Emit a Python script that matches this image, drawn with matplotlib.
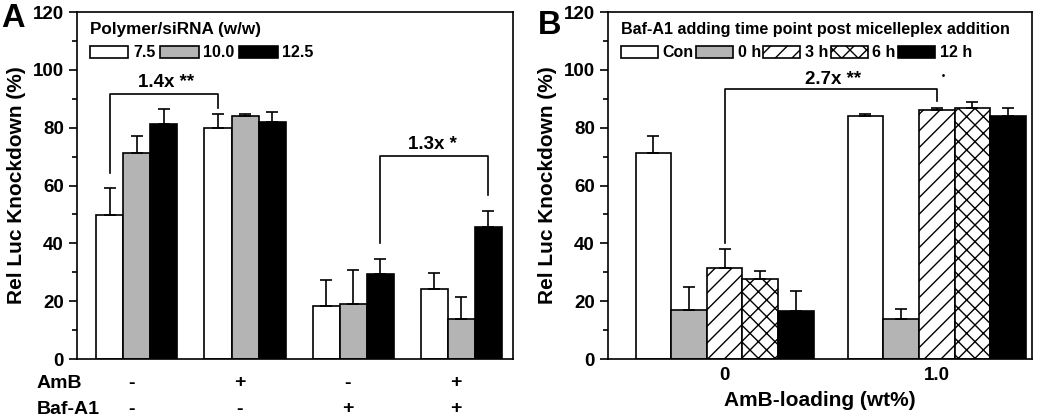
import numpy as np
import matplotlib
matplotlib.use('Agg')
import matplotlib.pyplot as plt
from matplotlib.ticker import MultipleLocator
from matplotlib.transforms import blended_transform_factory

plt.rcParams['font.family'] = ['Liberation Sans', 'DejaVu Sans']
plt.rcParams['font.weight'] = 'bold'
plt.rcParams['hatch.linewidth'] = 1.0

# panel A data
ratio_labels = ['7.5', '10.0', '12.5']
amb_signs = ['-', '+', '-', '+']
baf_signs = ['-', '-', '+', '+']
white_a = [49.8, 80.0, 18.5, 24.2]
white_a_err = [9.5, 4.8, 8.7, 5.6]
gray_a = [71.2, 84.2, 19.0, 13.9]
gray_a_err = [6.0, 0.6, 11.8, 7.7]
black_a = [81.4, 82.0, 29.5, 45.8]
black_a_err = [5.0, 3.5, 5.2, 5.3]

# panel B data
time_labels = ['Con', '0 h', '3 h', '6 h', '12 h']
amb_loading = ['0', '1.0']
con_b = [71.3, 84.2]
con_b_err = [6.0, 0.6]
h0_b = [17.0, 14.0]
h0_b_err = [7.8, 3.2]
h3_b = [31.6, 86.2]
h3_b_err = [6.4, 0.8]
h6_b = [27.7, 87.0]
h6_b_err = [2.8, 1.9]
h12_b = [16.6, 84.0]
h12_b_err = [6.8, 3.0]

GRAY = '#b4b4b4'
LW = 1.2


def style_axis(ax):
    ax.set_ylim(0, 120)
    ax.yaxis.set_major_locator(MultipleLocator(20))
    ax.yaxis.set_minor_locator(MultipleLocator(10))
    ax.tick_params(axis='y', which='major', direction='out', length=6, width=LW,
                   labelsize=13.5)
    ax.tick_params(axis='y', which='minor', direction='out', length=3.5, width=LW)
    ax.tick_params(axis='x', length=0, labelsize=13.5, pad=6)
    for s in ax.spines.values():
        s.set_linewidth(LW)
    ax.set_ylabel('Rel Luc Knockdown (%)', fontsize=15, fontweight='bold', labelpad=5)
    for lab in ax.get_yticklabels():
        lab.set_fontweight('bold')


def draw_bars(ax, x, vals, errs, color, hatch=None, label=None, width=0.25):
    ax.bar(x, vals, width, color=color, edgecolor='k', linewidth=LW,
           hatch=hatch, label=label, zorder=2)
    ax.errorbar(x, vals, yerr=[np.zeros(len(errs)), errs], fmt='none',
                ecolor='k', elinewidth=LW, capsize=4, capthick=LW, zorder=3)


def bracket(ax, x1, x2, top, y1, y2, text, tx, ty):
    ax.plot([x1, x1, x2, x2], [y1, top, top, y2], color='k', lw=LW, zorder=4)
    ax.text(tx, ty, text, ha='center', va='center', fontsize=13.5, fontweight='bold')


fig = plt.figure(figsize=(10.5, 4.17), dpi=100)
axA = fig.add_axes([0.0733, 0.139, 0.4153, 0.832])
axB = fig.add_axes([0.579, 0.139, 0.404, 0.832])

# ---- panel A ----
xa = np.arange(1, 5)
w = 0.25
draw_bars(axA, xa - w, white_a, white_a_err, 'white', label=ratio_labels[0])
draw_bars(axA, xa, gray_a, gray_a_err, GRAY, label=ratio_labels[1])
draw_bars(axA, xa + w, black_a, black_a_err, 'black', label=ratio_labels[2])
axA.set_xlim(0.445, 4.48)
axA.set_xticks([])
style_axis(axA)

bracket(axA, 1 - w, 2 - w, 91.5, 64.2, 86.9, '1.4x **', 1.27, 95.6)
bracket(axA, 3 + w, 4 + w, 70.3, 40.0, 56.6, '1.3x *', 3.73, 74.3)

tr = blended_transform_factory(axA.transData, fig.transFigure)
for i in range(4):
    axA.text(xa[i] - 0.05, 1 - 383 / 417, amb_signs[i], transform=tr, ha='center',
             va='center', fontsize=14)
    axA.text(xa[i] - 0.05, 1 - 409 / 417, baf_signs[i], transform=tr, ha='center',
             va='center', fontsize=14)
fig.text(37 / 1050, 1 - 383 / 417, 'AmB', ha='left', va='center', fontsize=14)
fig.text(37 / 1050, 1 - 409 / 417, 'Baf-A1', ha='left', va='center', fontsize=14)

legA = axA.legend(title='Polymer/siRNA (w/w)', loc='upper left',
                  bbox_to_anchor=(0.004, 1.003), ncol=3, frameon=False,
                  fontsize=11.5, handlelength=2.4, handleheight=0.8,
                  handletextpad=0.3, columnspacing=0.3, borderpad=0.2,
                  alignment='left', title_fontproperties={'weight': 'bold', 'size': 12.3})

# ---- panel B ----
xb = np.arange(2)
wb = 0.168
draw_bars(axB, xb - 2 * wb, con_b, con_b_err, 'white', label=time_labels[0], width=wb)
draw_bars(axB, xb - wb, h0_b, h0_b_err, GRAY, label=time_labels[1], width=wb)
draw_bars(axB, xb, h3_b, h3_b_err, 'white', hatch='//', label=time_labels[2], width=wb)
draw_bars(axB, xb + wb, h6_b, h6_b_err, 'white', hatch='xx', label=time_labels[3], width=wb)
draw_bars(axB, xb + 2 * wb, h12_b, h12_b_err, 'black', label=time_labels[4], width=wb)
axB.set_xlim(-0.55, 1.45)
axB.set_xticks(xb)
axB.set_xticklabels(amb_loading, fontweight='bold')
axB.set_xlabel('AmB-loading (wt%)', fontsize=15, fontweight='bold', labelpad=5)
style_axis(axB)

bracket(axB, 0, 1, 93.5, 40.0, 89.1, '2.7x **', 0.51, 96.6)
axB.plot([1.03], [98.3], marker='.', color='k', ms=2)

legB = axB.legend(title='Baf-A1 adding time point post micelleplex addition',
                  loc='upper left', bbox_to_anchor=(0.005, 1.003), ncol=5,
                  frameon=False, fontsize=11.5, handlelength=2.3, handleheight=0.8,
                  handletextpad=0.3, columnspacing=0.15, borderpad=0.2,
                  alignment='left', title_fontproperties={'weight': 'bold', 'size': 11.6})

fig.text(1 / 1050, 1 - 27 / 417, 'A', fontsize=23.5, fontweight='bold', va='baseline')
fig.text(538 / 1050, 1 - 34 / 417, 'B', fontsize=23.5, fontweight='bold', va='baseline')

fig.savefig('out.png', dpi=100)
